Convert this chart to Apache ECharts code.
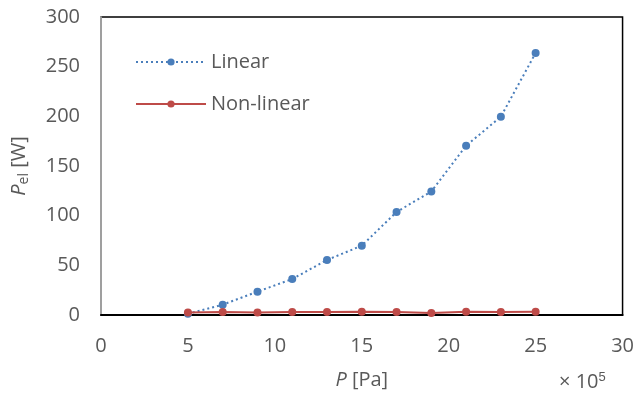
<!DOCTYPE html>
<html>
<head>
<meta charset="utf-8">
<script src="https://cdn.jsdelivr.net/npm/echarts@6/dist/echarts.min.js"></script>
<style>
  html, body { margin: 0; padding: 0; background: #fff; }
  #main { width: 637px; height: 395px; }
</style>
</head>
<body>
<div id="main"></div>
<script>
// pressure, x 10^5 Pa
var pressure = [5, 7, 9, 11, 13, 15, 17, 19, 21, 23, 25];
// electrical power [W]
var linearPower = [1.3, 10.4, 23.5, 36.2, 55.4, 69.8, 103.7, 124.4, 170.4, 199.6, 263.8];
var nonLinearPower = [2.6, 2.9, 2.6, 2.9, 2.9, 3.3, 2.9, 2.0, 3.3, 2.9, 3.3];
var xTicks = [0, 5, 10, 15, 20, 25, 30];
var yTicks = [0, 50, 100, 150, 200, 250, 300];

var txtColor = '#595959';
var fontFam = '"Open Sans", "Liberation Sans", sans-serif';
var fs = 20;

function pairs(xs, ys) {
	var out = [];
	for (var i = 0; i < xs.length; i++) out.push([xs[i], ys[i]]);
	return out;
}

var chart = echarts.init(document.getElementById('main'));

var option = {
	animation: false,
	textStyle: { fontFamily: fontFam },
	grid: {
		left: 101, right: 12, top: 17, bottom: 80,
		show: true,
		borderColor: '#000',
		borderWidth: 1.5
	},
	legend: {
		orient: 'vertical',
		left: 130,
		top: 47,
		itemWidth: 70,
		itemHeight: 9,
		itemGap: 22,
		textStyle: { color: txtColor, fontSize: fs, fontFamily: fontFam },
		data: ['Linear', 'Non-linear']
	},
	xAxis: {
		type: 'value',
		min: xTicks[0],
		max: xTicks[xTicks.length - 1],
		interval: 5,
		axisLine: { lineStyle: { color: '#000', width: 2 } },
		axisTick: { show: false },
		splitLine: { show: false },
		axisLabel: { color: txtColor, fontSize: fs, margin: 21 },
		name: '{i|P} [Pa]',
		nameLocation: 'middle',
		nameGap: 55,
		nameTextStyle: {
			color: txtColor, fontSize: fs,
			rich: { i: { fontStyle: 'italic', fontSize: fs, color: txtColor } }
		}
	},
	yAxis: {
		type: 'value',
		min: yTicks[0],
		max: yTicks[yTicks.length - 1],
		interval: 50,
		axisLine: { show: true, lineStyle: { color: '#bfbfbf', width: 1.5 } },
		axisTick: { show: false },
		splitLine: { show: false },
		axisLabel: { color: txtColor, fontSize: fs, margin: 21 },
		name: '{i|P}{s|el} [W]',
		nameLocation: 'middle',
		nameGap: 70,
		nameTextStyle: {
			color: txtColor, fontSize: fs,
			rich: {
				i: { fontStyle: 'italic', fontSize: fs, color: txtColor },
				s: { fontSize: 14, color: txtColor, verticalAlign: 'bottom', padding: [9, 0, 0, 0] }
			}
		}
	},
	graphic: [{
		type: 'text',
		left: 559,
		top: 371,
		style: {
			text: '× 10{sup|5}',
			fill: txtColor,
			font: fs + 'px ' + fontFam,
			rich: { sup: { fontSize: 13, verticalAlign: 'top', padding: [0, 0, 10, 0], fill: txtColor } }
		}
	}],
	series: [{
		name: 'Linear',
		type: 'line',
		data: pairs(pressure, linearPower),
		symbol: 'circle',
		symbolSize: 8,
		itemStyle: { color: '#4a7ebb' },
		lineStyle: { color: '#4a7ebb', width: 2, type: [2, 3] },
		z: 3
	}, {
		name: 'Non-linear',
		type: 'line',
		data: pairs(pressure, nonLinearPower),
		symbol: 'circle',
		symbolSize: 8,
		itemStyle: { color: '#be4b48' },
		lineStyle: { color: '#be4b48', width: 2 },
		z: 4
	}]
};

chart.setOption(option);
</script>
</body>
</html>
